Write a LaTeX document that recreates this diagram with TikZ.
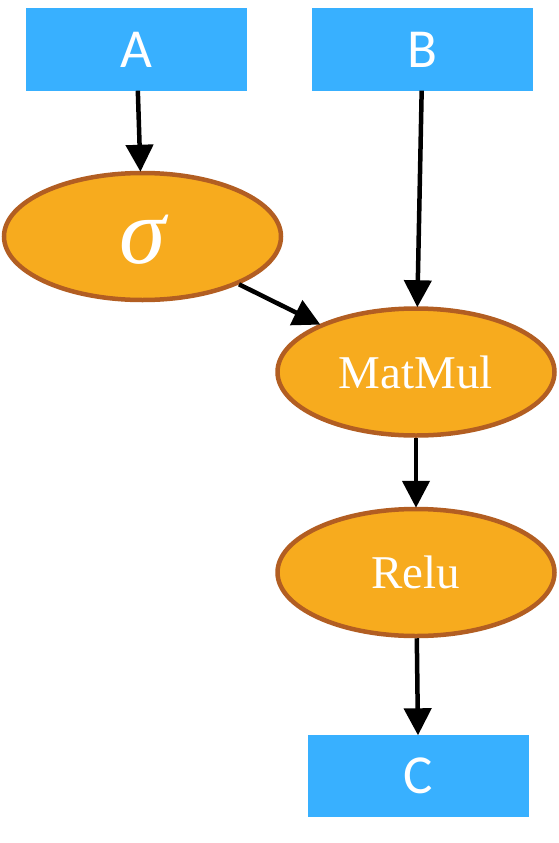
\documentclass[tikz,border=0pt]{standalone}
\usepackage{fontspec}
\setmainfont{Liberation Serif}
\newfontfamily\calib{Carlito}
\usetikzlibrary{shapes.geometric,arrows.meta}
\definecolor{boxblue}{RGB}{56,176,255}
\definecolor{opfill}{RGB}{247,171,30}
\definecolor{opedge}{RGB}{178,94,34}
\tikzset{
  tensor/.style={rectangle, fill=boxblue, draw=none, minimum width=221pt, minimum height=82pt, inner sep=0pt, text=white, font=\calib\fontsize{55}{55}\selectfont},
  opnode/.style={ellipse, fill=opfill, draw=opedge, line width=4.5pt, minimum width=277pt, minimum height=127pt, inner sep=0pt, text=white, font=\fontsize{47}{47}\selectfont},
  flow/.style={line width=4.5pt, -{Triangle[length=27pt,width=27pt]}, shorten >=-1pt}
}
\begin{document}
\begin{tikzpicture}[x=1pt,y=-1pt]
\useasboundingbox (0,0) rectangle (559,843);
\node[tensor] (A) at (136.5,49.5) {A};
\node[tensor] (B) at (422.5,49.5) {B};
\node[tensor] (C) at (418.5,775.5) {C};
\node[opnode] (sig) at (142.5,236.5) {\raisebox{-27pt}[0pt][0pt]{\fontsize{94}{94}\selectfont\itshape σ}};
\node[opnode] (mm) at (416,372) {MatMul};
\node[opnode] (relu) at (416,572.5) {Relu};
\draw[flow] (A) -- (sig);
\draw[flow] (B) -- (mm);
\draw[flow] (sig) -- (mm);
\draw[flow] (mm) -- (relu);
\draw[flow] (relu) -- (C);
\end{tikzpicture}
\end{document}
